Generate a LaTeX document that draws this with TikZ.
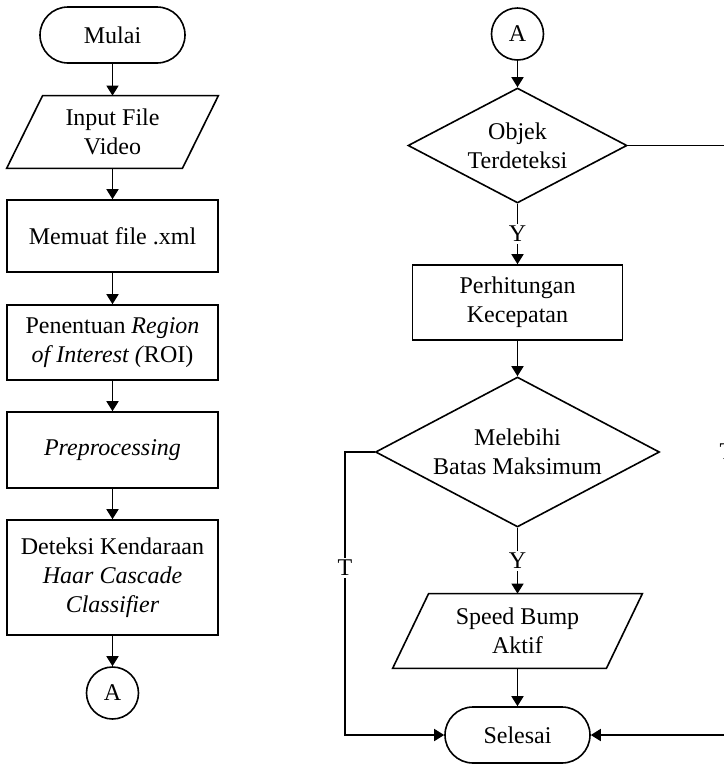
\documentclass[tikz,border=0pt]{standalone}
\usepackage{fontspec}
\setmainfont{Liberation Serif}
\usetikzlibrary{shapes.geometric,arrows.meta,calc}
\begin{document}
\begin{tikzpicture}[x=0.5pt,y=-0.5pt,
  every node/.style={font=\fontsize{12}{14.5}\selectfont, align=center, inner sep=0pt},
  proc/.style={draw, line width=0.8pt, rectangle, minimum width=105.5pt},
  term/.style={draw, line width=0.8pt, rectangle, rounded corners=14pt, minimum width=72.5pt, minimum height=28pt},
  conn/.style={draw, line width=0.8pt, circle, minimum size=26pt},
  dec/.style={draw, line width=0.8pt, diamond, aspect=1.9},
  iobox/.style={rectangle},
  flow/.style={line width=0.8pt, -{Triangle[length=5pt,width=6pt]}},
  lbl/.style={fill=white, inner sep=1pt}
]
\useasboundingbox (0,0) rectangle (724,767);
\clip (0,0) rectangle (724,767);

% left column
\node[term] (mul) at (112.5,35) {Mulai};
\node[iobox, minimum width=105.5pt, minimum height=36pt] (inp) at (112.5,132) {Input File\\Video};
\draw[line width=0.8pt] (inp.south west) -- ($(inp.north west)+(36,0)$) -- (inp.north east) -- ($(inp.south east)+(-36,0)$) -- cycle;
\node[proc, minimum height=36pt] (mem) at (112.5,236) {Memuat file .xml};
\node[proc, minimum height=37.5pt] (roi) at (112.5,342.5) {Penentuan \textit{Region}\\\textit{of Interest (}ROI)};
\node[proc, minimum height=38pt] (pre) at (112.5,450) {\textit{Preprocessing}};
\node[proc, minimum height=57.5pt] (det) at (112.5,577.5) {Deteksi Kendaraan\\\textit{Haar Cascade}\\\textit{Classifier}};
\node[conn] (a1) at (112.5,693) {A};

\draw[flow] (mul) -- (inp.north);
\draw[flow] (inp.south) -- (mem);
\draw[flow] (mem) -- (roi);
\draw[flow] (roi) -- (pre);
\draw[flow] (pre) -- (det);
\draw[flow] (det) -- (a1);

% right column
\node[conn] (a2) at (517.5,34) {A};
\node[dec, minimum width=109.5pt, minimum height=57.5pt] (obj) at (517.5,145.5) {Objek\\Terdeteksi};
\node[proc, minimum width=105pt, minimum height=37.5pt] (per) at (517.5,302.5) {Perhitungan\\Kecepatan};
\node[dec, minimum width=142pt, minimum height=75pt] (mel) at (517.5,452) {Melebihi\\Batas Maksimum};
\node[iobox, minimum width=124.5pt, minimum height=37pt] (spd) at (517.5,631) {Speed Bump\\Aktif};
\draw[line width=0.8pt] (spd.south west) -- ($(spd.north west)+(36,0)$) -- (spd.north east) -- ($(spd.south east)+(-36,0)$) -- cycle;
\node[term] (sel) at (517.5,735) {Selesai};

\coordinate (rt) at (727,145.5);
\coordinate (rb) at (727,735);
\coordinate (lt) at (345,452);
\coordinate (lb) at (345,735);

\draw[flow] (a2) -- (obj.north);
\draw[flow] (obj.south) -- node[lbl] {Y} (per.north);
\draw[flow] (per) -- (mel.north);
\draw[flow] (mel.south) -- node[lbl] {Y} (spd.north);
\draw[flow] (spd.south) -- (sel);
\draw[flow] (mel.west) -- (lt) -- node[lbl, pos=0.41] {T} (lb) -- (sel.west);
\draw[flow] (obj.east) -- (rt) -- node[lbl, pos=0.52] {T} (rb) -- (sel.east);
\end{tikzpicture}
\end{document}
